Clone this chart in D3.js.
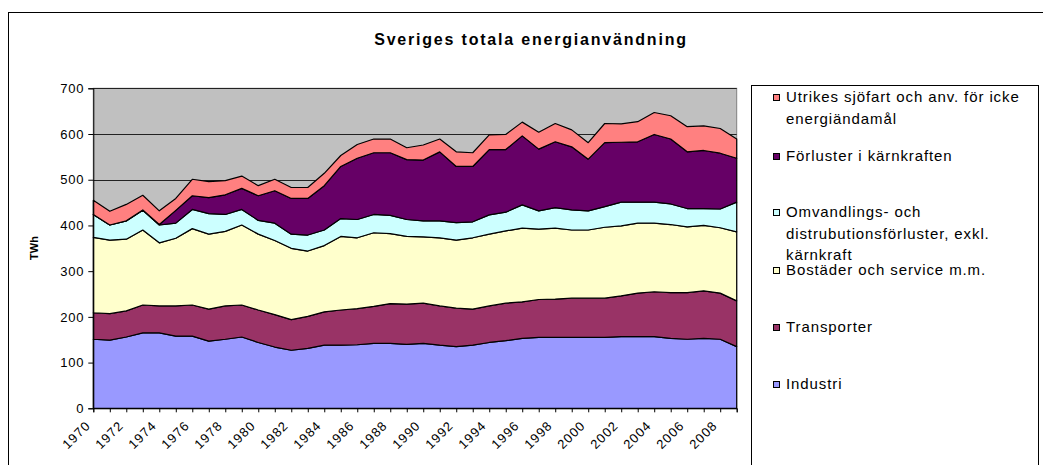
<!DOCTYPE html>
<html>
<head>
<meta charset="utf-8">
<script src="https://cdn.jsdelivr.net/npm/d3@7"></script>
<style>
  body { margin: 0; background: #fff; }
  svg { display: block; font-family: "Liberation Sans", Arial, sans-serif; }
</style>
</head>
<body>
<script>
// years on the category axis
const years = [1970, 1971, 1972, 1973, 1974, 1975, 1976, 1977, 1978, 1979,
  1980, 1981, 1982, 1983, 1984, 1985, 1986, 1987, 1988, 1989,
  1990, 1991, 1992, 1993, 1994, 1995, 1996, 1997, 1998, 1999,
  2000, 2001, 2002, 2003, 2004, 2005, 2006, 2007, 2008, 2009];

// TWh per series, bottom of the stack first
const industri = [151, 149, 156, 165, 165, 158, 158, 147, 151, 156, 144, 134, 127, 131, 138, 138, 139, 142, 142, 140,
  142, 138, 135, 138, 144, 148, 153, 155, 155, 155, 155, 155, 157, 157, 157, 153, 151, 153, 151, 135];
const transporter = [58, 58, 57, 61, 59, 66, 68, 70, 73, 70, 71, 71, 67, 70, 73, 77, 79, 81, 87, 88,
  88, 86, 84, 79, 80, 82, 80, 83, 84, 86, 86, 86, 89, 95, 98, 100, 102, 104, 101, 100];
const bostader = [165, 161, 157, 164, 138, 148, 167, 164, 163, 175, 166, 162, 156, 143, 145, 161, 155, 161, 153, 148,
  145, 149, 149, 156, 157, 158, 161, 154, 155, 149, 149, 155, 153, 153, 150, 149, 144, 143, 143, 151];
const omvandling = [50, 33, 40, 43, 39, 33, 42, 45, 37, 34, 30, 38, 31, 35, 34, 39, 40, 40, 40, 37,
  35, 37, 38, 35, 42, 41, 51, 40, 45, 44, 42, 45, 52, 46, 46, 45, 40, 37, 41, 65];
const forluster = [0, 0, 0, 1, 1, 28, 30, 35, 43, 46, 54, 71, 78, 80, 97, 114, 134, 135, 137, 131,
  133, 151, 123, 121, 143, 137, 151, 135, 144, 138, 113, 140, 131, 132, 148, 142, 124, 127, 122, 96];
const utrikes = [31, 30, 36, 32, 30, 26, 36, 35, 31, 27, 22, 25, 24, 24, 27, 24, 30, 30, 30, 26,
  33, 28, 32, 30, 32, 33, 30, 37, 40, 37, 36, 42, 40, 44, 48, 51, 55, 54, 54, 42];

const seriesKeys = ["industri", "transporter", "bostader", "omvandling", "forluster", "utrikes"];
const seriesValues = [industri, transporter, bostader, omvandling, forluster, utrikes];
const seriesColors = ["#9999FF", "#993366", "#FFFFCC", "#CCFFFF", "#660066", "#FF8080"];
// legend text, top to bottom (one array per entry, one string per line)
const legendLabels = [
  ["Utrikes sjöfart och anv. för icke", "energiändamål"],
  ["Förluster i kärnkraften"],
  ["Omvandlings- och", "distrubutionsförluster, exkl.", "kärnkraft"],
  ["Bostäder och service m.m."],
  ["Transporter"],
  ["Industri"]
];
const yTicks = [0, 100, 200, 300, 400, 500, 600, 700];

const width = 1043, height = 465;
const plot = { left: 93.3, right: 736.7, top: 88.3, bottom: 408.3 };

const svg = d3.select("body").append("svg")
  .attr("width", width)
  .attr("height", height);

// chart frame
svg.append("rect")
  .attr("x", 8.5).attr("y", 12.5)
  .attr("width", 1060).attr("height", 480)
  .attr("fill", "#fff")
  .attr("stroke", "#000").attr("stroke-width", 1);

svg.append("text")
  .attr("x", 531).attr("y", 45)
  .attr("text-anchor", "middle")
  .style("font-size", "16px")
  .style("font-weight", "bold")
  .style("letter-spacing", "1.8px")
  .text("Sveriges totala energianvändning");

let table = years.map((yr, i) => {
  let row = { year: yr };
  seriesKeys.forEach((k, j) => { row[k] = seriesValues[j][i]; });
  return row;
});

let stacked = d3.stack().keys(seriesKeys)(table);

let x = d3.scalePoint()
  .domain(years)
  .range([plot.left, plot.right])
  .padding(0);
let y = d3.scaleLinear()
  .domain([0, 700])
  .range([plot.bottom, plot.top]);

// plot background
svg.append("rect")
  .attr("x", plot.left).attr("y", plot.top)
  .attr("width", plot.right - plot.left)
  .attr("height", plot.bottom - plot.top)
  .attr("fill", "#C0C0C0")
  .attr("stroke", "#808080").attr("stroke-width", 1);

// gridlines
svg.append("g")
  .selectAll("line")
  .data(yTicks.filter((t) => t > 0))
  .join("line")
  .attr("x1", plot.left).attr("x2", plot.right)
  .attr("y1", (d) => Math.round(y(d)) + 0.5)
  .attr("y2", (d) => Math.round(y(d)) + 0.5)
  .attr("stroke", "#222").attr("stroke-width", 1);

let area = d3.area()
  .x((d) => x(d.data.year))
  .y0((d) => y(d[0]))
  .y1((d) => y(d[1]));

svg.append("g")
  .selectAll("path")
  .data(stacked)
  .join("path")
  .attr("d", area)
  .attr("fill", (d, i) => seriesColors[i])
  .attr("stroke", "#000")
  .attr("stroke-width", 1.2)
  .attr("stroke-linejoin", "round");

// y axis
let yAxis = svg.append("g")
  .attr("transform", `translate(${plot.left},0)`)
  .call(d3.axisLeft(y).tickValues(yTicks).tickSize(5).tickPadding(4));
yAxis.select(".domain").attr("stroke", "#000");
yAxis.selectAll("text")
  .style("font-size", "13px")
  .style("letter-spacing", "0.8px")
  .attr("fill", "#000");

// x axis: a tick for every year, a label for every second one
let xAxis = svg.append("g")
  .attr("transform", `translate(0,${plot.bottom})`)
  .call(d3.axisBottom(x).tickSize(4).tickFormat(""));
xAxis.select(".domain").attr("stroke", "#000");

svg.append("g")
  .selectAll("text")
  .data(years.filter((yr) => yr % 2 === 0))
  .join("text")
  .attr("transform", (d) => `translate(${x(d) - 2},${plot.bottom + 18}) rotate(-45)`)
  .attr("text-anchor", "end")
  .style("font-size", "13px")
  .style("letter-spacing", "1.1px")
  .text((d) => d);

svg.append("text")
  .attr("transform", "translate(38,248) rotate(-90)")
  .attr("text-anchor", "middle")
  .style("font-size", "11px")
  .style("font-weight", "bold")
  .text("TWh");

// legend
svg.append("rect")
  .attr("x", 751.5).attr("y", 85.5)
  .attr("width", 287).attr("height", 420)
  .attr("fill", "#fff")
  .attr("stroke", "#000").attr("stroke-width", 1);

const legendTop = [102, 161, 217, 275, 332, 389];
const legendColors = seriesColors.slice().reverse();

let items = svg.append("g")
  .selectAll("g")
  .data(legendLabels)
  .join("g")
  .attr("transform", (d, i) => `translate(0,${legendTop[i]})`);

items.append("rect")
  .attr("x", 773.5).attr("y", -7.5)
  .attr("width", 6).attr("height", 6)
  .attr("fill", (d, i) => legendColors[i])
  .attr("stroke", "#000").attr("stroke-width", 1);

items.append("text")
  .attr("x", 786)
  .style("font-size", "15px")
  .style("letter-spacing", "0.9px")
  .selectAll("tspan")
  .data((d) => d)
  .join("tspan")
  .attr("x", 786)
  .attr("y", (d, i) => i * 21.5)
  .text((d) => d);
</script>
</body>
</html>
